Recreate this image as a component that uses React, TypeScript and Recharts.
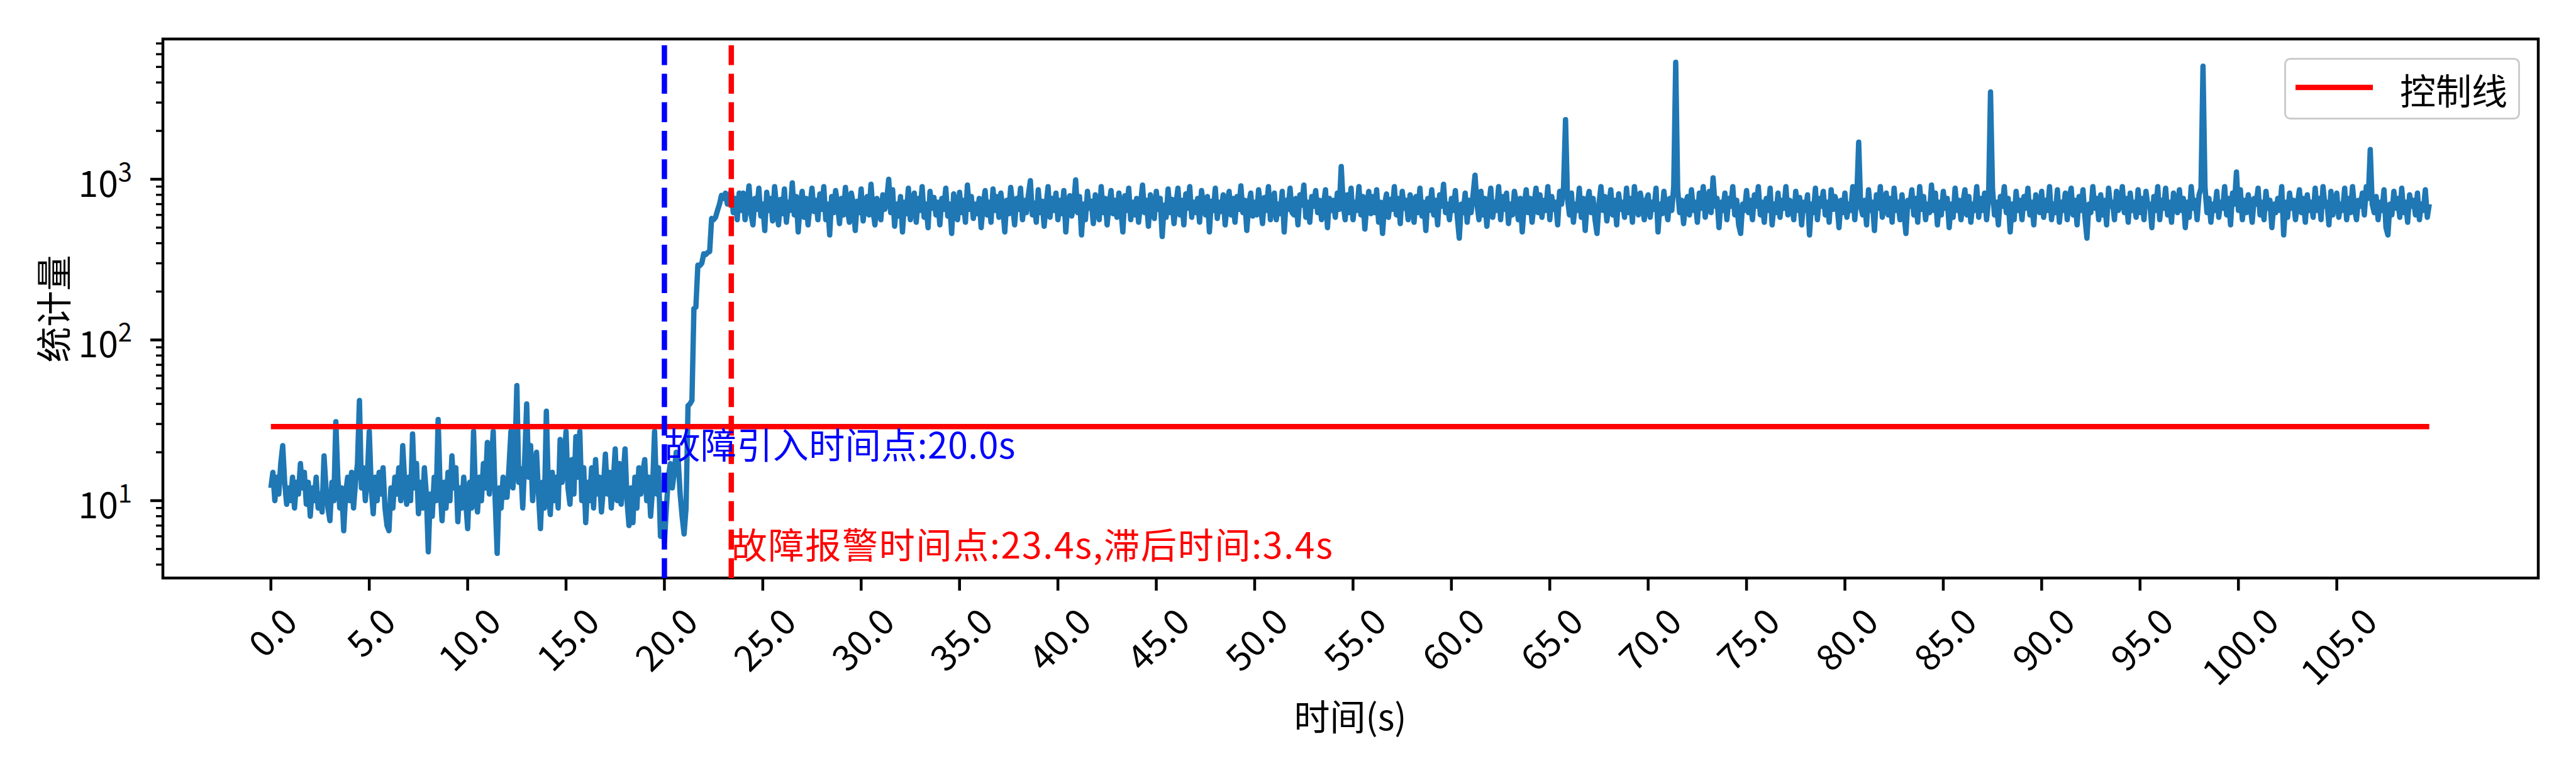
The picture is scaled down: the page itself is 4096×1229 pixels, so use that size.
import React from 'react';
import {
  LineChart,
  Line,
  XAxis,
  YAxis,
  ReferenceLine,
  ReferenceDot,
  ReferenceArea,
  Legend,
} from 'recharts';

const FONT = "'Noto Sans CJK SC', 'Noto Sans', sans-serif";

// sample step of the statistic, seconds (10 samples per row below)
const DT = 0.1;

// normal operation, 0.0 – 19.9 s
const normalStats = [
  12, 15, 10, 14, 11, 17, 22, 13, 9.5, 12,
  10, 14, 9, 13, 11, 17, 12, 15, 9.5, 13,
  8, 12, 10, 14, 9, 11, 8.5, 19, 12, 9,
  7.5, 13, 10, 31, 14, 9, 12, 6.5, 11, 14,
  10, 15, 9, 13, 17, 42, 12, 16, 10, 14,
  27, 12, 8.3, 14, 10, 15, 11, 16, 9, 7,
  6.5, 12, 9, 14, 11, 16, 10, 22, 13, 9.5,
  14, 10, 26, 12, 17, 8.3, 13, 9, 16, 11,
  4.8, 11, 8, 14, 10, 32, 12, 7.5, 13, 9,
  15, 10, 19, 12, 16, 7.4, 12, 9, 14, 10,
  6.7, 13, 9, 27, 11, 8.5, 14, 10, 17, 12,
  23, 11, 17, 27, 10, 4.7, 12, 9, 14, 10.5,
  10.5, 16, 27, 12, 18, 52, 13, 15.8, 9, 18,
  40, 14, 22, 10, 16, 20, 11, 6.7, 13, 9,
  36, 12, 8.2, 15, 10, 14, 9, 24, 13, 17,
  27, 12, 9.5, 18, 11, 25, 14, 27, 10, 16,
  7.3, 13, 10, 16, 9, 18, 11, 14, 8.5, 12,
  19.5, 11, 15, 9, 13, 21, 10, 17, 9.5, 14,
  21, 10, 7, 12, 7.3, 14, 9, 16, 11, 15,
  18, 10, 14, 8, 12, 27, 11, 16, 6, 9,
];

// fault introduced at 20 s, statistic climbs, 20.0 – 23.9 s
const onsetStats = [
  5.5, 9, 14, 17, 12, 15, 20, 18, 11, 8,
  6.2, 9, 39, 40, 42, 157, 160, 292, 290, 300,
  344, 340, 350, 355, 570, 560, 580, 640, 700, 794,
  760, 820, 700, 780, 850, 620, 760, 560, 820, 640,
];

// faulty operation, 24.0 – 109.7 s
const faultStats = [
  820, 560, 700, 910, 610, 520, 760, 650, 880, 590,
  700, 480, 830, 640, 760, 550, 900, 680, 520, 750,
  610, 870, 540, 720, 640, 950, 600, 780, 470, 690,
  840, 580, 760, 520, 690, 880, 630, 740, 560, 810,
  650, 900, 560, 700, 450, 780, 620, 850, 700, 530,
  760, 600, 890, 660, 540, 820, 710, 480, 730, 620,
  870, 550, 690, 780, 600, 930, 640, 520, 760, 680,
  560, 800, 650, 740, 1000, 620, 860, 510, 700, 590,
  780, 470, 720, 610, 880, 560, 690, 820, 540, 760,
  640, 900, 580, 700, 500, 840, 660, 770, 600, 720,
  520, 760, 650, 880, 590, 700, 460, 810, 680, 560,
  830, 620, 740, 540, 920, 650, 780, 570, 700, 610,
  760, 500, 690, 850, 600, 720, 540, 870, 640, 780,
  580, 820, 660, 470, 740, 610, 890, 690, 520, 760,
  650, 880, 560, 740, 620, 800, 980, 600, 710, 540,
  860, 620, 730, 510, 690, 900, 580, 760, 640, 820,
  560, 740, 610, 850, 470, 700, 790, 590, 680, 990,
  620, 780, 450, 700, 560, 840, 660, 730, 530, 800,
  690, 560, 900, 620, 760, 520, 700, 850, 610, 740,
  580, 820, 650, 470, 790, 640, 880, 560, 720, 600,
  760, 540, 700, 920, 620, 740, 510, 800, 680, 570,
  840, 650, 760, 440, 690, 580, 870, 620, 750, 530,
  700, 880, 600, 740, 520, 810, 660, 900, 580, 720,
  620, 760, 540, 850, 690, 600, 780, 470, 730, 640,
  880, 570, 720, 630, 800, 520, 690, 840, 600, 760,
  540, 780, 650, 910, 620, 740, 480, 700, 820, 590,
  720, 600, 860, 680, 530, 770, 640, 900, 560, 700,
  820, 560, 700, 610, 840, 470, 740, 650, 880, 620,
  600, 760, 520, 800, 690, 920, 580, 720, 540, 780,
  680, 850, 620, 740, 560, 700, 860, 500, 760, 640,
  740, 580, 820, 650, 1200, 700, 560, 800, 620, 880,
  560, 720, 640, 900, 600, 780, 490, 700, 840, 610,
  780, 620, 860, 540, 720, 460, 690, 810, 580, 750,
  650, 900, 600, 760, 530, 840, 660, 740, 560, 800,
  700, 540, 780, 620, 880, 590, 720, 480, 760, 640,
  860, 600, 740, 520, 800, 680, 930, 620, 700, 560,
  760, 640, 850, 580, 430, 700, 620, 820, 540, 740,
  620, 800, 1060, 700, 560, 840, 600, 760, 510, 690,
  880, 580, 720, 640, 900, 560, 780, 650, 820, 530,
  700, 600, 840, 720, 560, 760, 470, 690, 860, 620,
  760, 540, 700, 880, 620, 800, 580, 740, 640, 900,
  560, 780, 650, 720, 520, 840, 700, 900, 2350, 760,
  600, 820, 540, 700, 640, 880, 580, 760, 480, 720,
  840, 620, 760, 560, 460, 700, 900, 640, 780, 550,
  690, 860, 600, 740, 520, 810, 650, 720, 580, 880,
  620, 760, 540, 900, 680, 600, 820, 700, 560, 740,
  800, 580, 720, 650, 880, 470, 700, 610, 840, 660,
  560, 760, 640, 900, 5340, 860, 620, 740, 530, 700,
  780, 600, 860, 640, 720, 540, 820, 660, 900, 580,
  700, 840, 620, 1020, 680, 760, 500, 720, 640, 820,
  560, 760, 680, 900, 600, 740, 520, 460, 700, 640,
  850, 620, 740, 560, 800, 680, 900, 600, 720, 540,
  760, 640, 880, 520, 700, 620, 820, 580, 740, 660,
  900, 600, 740, 680, 560, 840, 640, 770, 520, 720,
  640, 800, 450, 700, 620, 880, 560, 760, 680, 840,
  600, 720, 540, 860, 650, 780, 700, 500, 740, 620,
  820, 580, 700, 640, 900, 560, 760, 1700, 680, 600,
  740, 520, 860, 640, 720, 480, 800, 660, 900, 580,
  700, 820, 600, 760, 540, 880, 640, 720, 560, 800,
  620, 460, 740, 680, 860, 600, 760, 540, 900, 650,
  780, 560, 700, 620, 920, 640, 820, 520, 720, 600,
  840, 660, 760, 500, 700, 580, 880, 640, 740, 560,
  720, 860, 600, 780, 540, 700, 640, 900, 580, 760,
  640, 820, 560, 740, 3490, 880, 600, 720, 520, 780,
  680, 900, 620, 760, 470, 700, 560, 840, 640, 740,
  560, 780, 660, 880, 600, 720, 520, 800, 680, 620,
  840, 580, 740, 640, 900, 560, 700, 620, 860, 540,
  720, 640, 820, 560, 760, 880, 600, 740, 520, 780,
  640, 860, 580, 430, 700, 620, 900, 660, 760, 560,
  800, 600, 740, 520, 880, 680, 720, 560, 840, 640,
  700, 900, 620, 760, 540, 820, 640, 720, 580, 860,
  620, 760, 560, 840, 680, 700, 500, 780, 640, 900,
  560, 740, 660, 880, 600, 720, 540, 820, 700, 620,
  860, 640, 760, 500, 720, 580, 900, 660, 740, 560,
  800, 880, 5050, 900, 620, 760, 540, 700, 640, 840,
  580, 720, 660, 900, 600, 760, 520, 820, 700, 1110,
  640, 860, 560, 740, 620, 800, 680, 540, 760, 700,
  880, 600, 720, 560, 840, 660, 740, 500, 700, 620,
  760, 640, 900, 450, 720, 580, 820, 660, 740, 560,
  700, 860, 620, 760, 540, 800, 640, 720, 580, 880,
  640, 760, 560, 900, 680, 720, 520, 840, 600, 740,
  820, 580, 700, 640, 880, 560, 760, 620, 900, 660,
  560, 740, 680, 820, 600, 900, 760, 1530, 700, 620,
  780, 560, 720, 640, 860, 500, 450, 700, 600, 840,
  660, 760, 580, 880, 620, 720, 540, 800, 680, 740,
  600, 820, 560, 700, 640, 860, 580, 700,
];

const CONTROL_LIMIT = 28.9;
const FAULT_TIME = 20.0;
const ALARM_TIME = 23.4;
const LAG_TIME = 3.4;

const X_TICKS = [0, 5, 10, 15, 20, 25, 30, 35, 40, 45, 50, 55, 60, 65, 70, 75, 80, 85, 90, 95, 100, 105];
const Y_MAJOR = [10, 100, 1000];
const Y_MINOR = [4, 5, 6, 7, 8, 9, 20, 30, 40, 50, 60, 70, 80, 90, 200, 300, 400, 500, 600, 700, 800, 900, 2000, 3000, 4000, 5000, 6000, 7000];
const X_DOMAIN: [number, number] = [-5.49, 115.24];
const Y_DOMAIN: [number, number] = [3.3, 7460];

const FAULT_LABEL = `故障引入时间点:${FAULT_TIME.toFixed(1)}s`;
const ALARM_LABEL = `故障报警时间点:${ALARM_TIME.toFixed(1)}s,滞后时间:${LAG_TIME.toFixed(1)}s`;

const stats = [...normalStats, ...onsetStats, ...faultStats];
const data = stats.map((v, i) => ({ t: Math.round(i * DT * 10) / 10, v }));
const lastTime = data[data.length - 1].t;

const W = 4096;
const H = 1229;
const PLOT_LEFT = 259;
const PLOT_TOP = 62;
const PLOT_BOTTOM = 919;
const RIGHT_GAP = 60;
const TICK_FS = 57;
const MAJOR_TICK = 20;
const MINOR_TICK = 11;
const TICK_PAD = 20;
const SPINE_W = 4.5;
const LINE_W = 8.5;
const DASH = '31.6 13.7';

function TimeTick(props: any) {
  const { x, payload } = props;
  const label = Number(payload.value).toFixed(1);
  const w = label.split('').reduce((s, c) => s + (c === '.' ? 0.27 : 0.55), 0) * TICK_FS;
  const cy = PLOT_BOTTOM + MAJOR_TICK + TICK_PAD + (w + 0.8 * TICK_FS) * 0.3536;
  return (
    <g>
      <line x1={x} x2={x} y1={PLOT_BOTTOM} y2={PLOT_BOTTOM + MAJOR_TICK} stroke="#000" strokeWidth={SPINE_W} />
      <text
        x={x}
        y={cy}
        transform={`rotate(-45 ${x} ${cy})`}
        textAnchor="middle"
        dominantBaseline="central"
        fontSize={TICK_FS}
        fontFamily={FONT}
        fill="#000"
      >
        {label}
      </text>
    </g>
  );
}

function StatTick(props: any) {
  const { y, payload } = props;
  const v = Number(payload.value);
  const major = Y_MAJOR.includes(v);
  const len = major ? MAJOR_TICK : MINOR_TICK;
  return (
    <g>
      <line x1={PLOT_LEFT - len} x2={PLOT_LEFT} y1={y} y2={y} stroke="#000" strokeWidth={major ? SPINE_W : 3.4} />
      {major && (
        <text x={210} y={y + 28} textAnchor="end" fontSize={TICK_FS} fontFamily={FONT} fill="#000">
          <tspan>10</tspan>
          <tspan dy={-25} fontSize={40}>
            {Math.round(Math.log10(v))}
          </tspan>
        </text>
      )}
    </g>
  );
}

function Annotation(props: any) {
  const { viewBox, color, text, length } = props;
  return (
    <text
      x={viewBox.x}
      y={viewBox.y}
      fill={color}
      fontSize={TICK_FS}
      fontFamily={FONT}
      textLength={length}
      lengthAdjust="spacing"
    >
      {text}
    </text>
  );
}

function XTitle() {
  return (
    <text x={2147} y={1136} textAnchor="middle" dominantBaseline="central" fontSize={TICK_FS} fontFamily={FONT} fill="#000">
      时间(s)
    </text>
  );
}

function YTitle() {
  return (
    <text
      x={82}
      y={491}
      transform="rotate(-90 82 491)"
      textAnchor="middle"
      dominantBaseline="central"
      fontSize={TICK_FS}
      fontFamily={FONT}
      fill="#000"
    >
      统计量
    </text>
  );
}

function ControlLegend() {
  return (
    <svg width={375} height={98} style={{ display: 'block' }}>
      <rect x={1.5} y={1.5} width={372} height={95} rx={8} fill="#fff" fillOpacity={0.8} stroke="#cccccc" strokeWidth={3} />
      <line x1={18} x2={141} y1={47} y2={47} stroke="#ff0000" strokeWidth={LINE_W} />
      <text x={184} y={49} dominantBaseline="central" fontSize={TICK_FS} fontFamily={FONT} fill="#000">
        控制线
      </text>
    </svg>
  );
}

export default function App() {
  return (
    <div style={{ position: 'absolute', left: 0, top: 0, width: W, height: H, background: '#fff' }}>
      <LineChart
        width={W}
        height={H}
        data={data}
        margin={{ top: PLOT_TOP, right: RIGHT_GAP, bottom: 0, left: 0 }}
      >
        <XAxis
          dataKey="t"
          type="number"
          domain={X_DOMAIN}
          allowDataOverflow
          ticks={X_TICKS}
          interval={0}
          height={H - PLOT_BOTTOM}
          axisLine={false}
          tickLine={false}
          tick={<TimeTick />}
          label={<XTitle />}
        />
        <YAxis
          type="number"
          scale="log"
          domain={Y_DOMAIN}
          allowDataOverflow
          ticks={[...Y_MINOR, ...Y_MAJOR].sort((a, b) => a - b)}
          interval={0}
          width={PLOT_LEFT}
          axisLine={false}
          tickLine={false}
          tick={<StatTick />}
          label={<YTitle />}
        />
        <ReferenceArea
          x1={X_DOMAIN[0]}
          x2={X_DOMAIN[1]}
          y1={Y_DOMAIN[0]}
          y2={Y_DOMAIN[1]}
          fill="none"
          stroke="#000"
          strokeWidth={SPINE_W}
        />
        <Line
          dataKey="v"
          type="linear"
          stroke="#1f77b4"
          strokeWidth={LINE_W}
          strokeLinejoin="round"
          dot={false}
          isAnimationActive={false}
        />
        <ReferenceLine
          segment={[
            { x: 0, y: CONTROL_LIMIT },
            { x: lastTime, y: CONTROL_LIMIT },
          ]}
          stroke="#ff0000"
          strokeWidth={LINE_W}
        />
        <ReferenceLine x={FAULT_TIME} stroke="#0000ff" strokeWidth={LINE_W} strokeDasharray={DASH} />
        <ReferenceLine x={ALARM_TIME} stroke="#ff0000" strokeWidth={LINE_W} strokeDasharray={DASH} />
        <ReferenceDot
          x={FAULT_TIME}
          y={18.3}
          r={0}
          fill="none"
          stroke="none"
          label={<Annotation color="#0000ff" text={FAULT_LABEL} length={558} />}
        />
        <ReferenceDot
          x={ALARM_TIME}
          y={4.38}
          r={0}
          fill="none"
          stroke="none"
          label={<Annotation color="#ff0000" text={ALARM_LABEL} length={956} />}
        />
        <Legend
          layout="horizontal"
          verticalAlign="middle"
          align="center"
          wrapperStyle={{ left: 3632, top: 92, width: 375, height: 98, lineHeight: 0 }}
          content={<ControlLegend />}
        />
      </LineChart>
    </div>
  );
}
